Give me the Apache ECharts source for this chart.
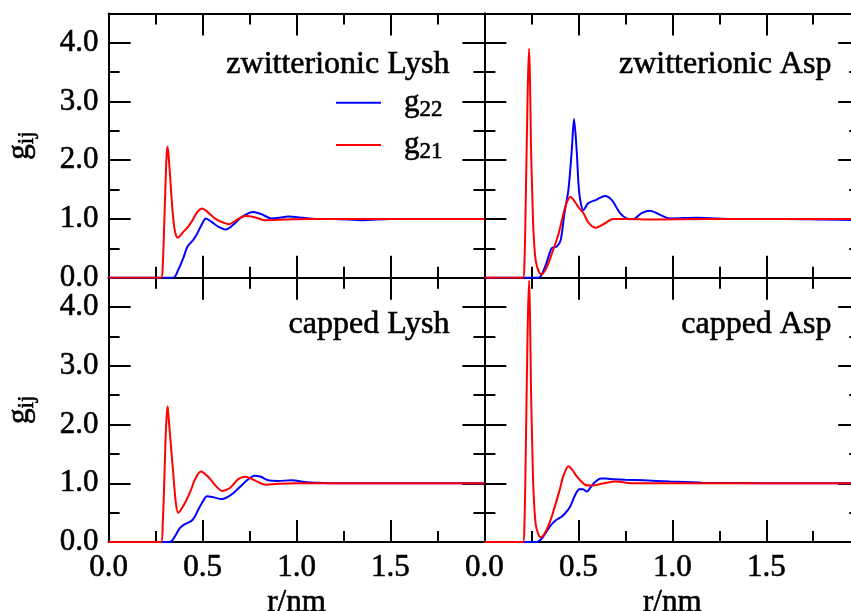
<!DOCTYPE html>
<html>
<head>
<meta charset="utf-8">
<script src="https://cdn.jsdelivr.net/npm/echarts@6/dist/echarts.min.js"></script>
<style>
  html, body { margin: 0; padding: 0; background: #ffffff; }
  #chart { width: 851px; height: 611px; }
</style>
</head>
<body>
<div id="chart"></div>
<script>
// Radial distribution functions g(r), r in nm.
// g22: blue, g21: red. One pair of curves per panel.

// zwitterionic Lysh
const zwLyshG22R = [0, 0.344, 0.37, 0.397, 0.42, 0.45, 0.468, 0.495, 0.518, 0.548, 0.583, 0.624, 0.663, 0.707, 0.77, 0.814, 0.867, 0.91, 0.955, 1.035, 1.1, 1.2, 1.35, 1.5, 1.7, 2.0];
const zwLyshG22 = [0, 0, 0.13, 0.33, 0.53, 0.64, 0.73, 0.90, 1.01, 0.95, 0.87, 0.82, 0.90, 1.03, 1.12, 1.08, 1.01, 1.02, 1.04, 1.02, 1.0, 1.0, 0.98, 1.0, 1.0, 1.0];
const zwLyshG21R = [0, 0.28, 0.288, 0.296, 0.303, 0.309, 0.314, 0.32, 0.33, 0.34, 0.35, 0.36, 0.368, 0.385, 0.40, 0.424, 0.447, 0.468, 0.485, 0.498, 0.515, 0.54, 0.565, 0.6, 0.64, 0.68, 0.725, 0.778, 0.83, 0.94, 1.05, 1.2, 1.5, 2.0];
const zwLyshG21 = [0, 0, 0.2, 0.9, 1.6, 2.1, 2.23, 2.05, 1.6, 1.15, 0.85, 0.71, 0.68, 0.73, 0.79, 0.87, 0.98, 1.10, 1.16, 1.18, 1.15, 1.08, 1.01, 0.95, 0.91, 0.98, 1.05, 1.03, 0.98, 0.99, 1.0, 1.0, 1.0, 1.0];

// zwitterionic Asp
const zwAspG22R = [0, 0.287, 0.323, 0.358, 0.385, 0.406, 0.426, 0.447, 0.465, 0.477, 0.491, 0.505, 0.527, 0.553, 0.598, 0.642, 0.678, 0.722, 0.757, 0.793, 0.837, 0.881, 0.935, 0.988, 1.13, 1.34, 1.6, 1.8, 2.0];
const zwAspG22 = [0, 0, 0.19, 0.50, 0.53, 0.64, 1.10, 1.49, 2.17, 2.70, 2.17, 1.44, 1.15, 1.27, 1.33, 1.39, 1.32, 1.10, 1.01, 1.0, 1.10, 1.14, 1.07, 1.01, 1.02, 1.0, 1.0, 0.99, 0.98];
const zwAspG21R = [0, 0.205, 0.213, 0.22, 0.226, 0.232, 0.238, 0.243, 0.248, 0.255, 0.261, 0.273, 0.291, 0.305, 0.332, 0.358, 0.394, 0.42, 0.438, 0.458, 0.484, 0.505, 0.527, 0.553, 0.589, 0.633, 0.686, 0.75, 0.9, 1.2, 1.5, 2.0];
const zwAspG21 = [0, 0, 0.25, 1.3, 2.4, 3.4, 3.90, 3.3, 2.22, 1.4, 0.80, 0.29, 0.09, 0.06, 0.18, 0.40, 0.74, 1.08, 1.28, 1.38, 1.28, 1.18, 1.10, 0.94, 0.85, 0.91, 1.0, 1.0, 0.99, 1.0, 1.0, 1.0];

// capped Lysh
const capLyshG22R = [0, 0.326, 0.35, 0.38, 0.41, 0.441, 0.46, 0.477, 0.50, 0.523, 0.56, 0.601, 0.63, 0.663, 0.70, 0.74, 0.778, 0.81, 0.849, 0.9, 0.973, 1.044, 1.1, 1.2, 1.5, 2.0];
const capLyshG22 = [0, 0, 0.08, 0.24, 0.31, 0.36, 0.44, 0.55, 0.68, 0.78, 0.76, 0.73, 0.76, 0.83, 0.94, 1.06, 1.13, 1.11, 1.05, 1.04, 1.05, 1.02, 1.01, 1.0, 1.0, 1.0];
const capLyshG21R = [0, 0.28, 0.288, 0.296, 0.303, 0.309, 0.314, 0.32, 0.33, 0.344, 0.358, 0.37, 0.385, 0.415, 0.44, 0.459, 0.491, 0.53, 0.565, 0.604, 0.645, 0.69, 0.725, 0.778, 0.833, 0.90, 1.0, 1.2, 1.5, 2.0];
const capLyshG21 = [0, 0, 0.3, 1.0, 1.74, 2.15, 2.31, 2.1, 1.7, 1.17, 0.66, 0.50, 0.55, 0.72, 0.90, 1.06, 1.20, 1.11, 0.975, 0.87, 0.92, 1.07, 1.11, 1.05, 0.975, 0.99, 1.0, 1.0, 1.0, 1.0];

// capped Asp
const capAspG22R = [0, 0.279, 0.31, 0.35, 0.38, 0.41, 0.43, 0.456, 0.48, 0.505, 0.525, 0.545, 0.565, 0.589, 0.62, 0.645, 0.686, 0.75, 0.846, 0.988, 1.16, 1.5, 2.0];
const capAspG22 = [0, 0, 0.08, 0.27, 0.37, 0.43, 0.49, 0.60, 0.78, 0.90, 0.90, 0.86, 0.93, 1.02, 1.08, 1.08, 1.07, 1.06, 1.05, 1.03, 1.01, 1.0, 1.0];
const capAspG21R = [0, 0.205, 0.213, 0.22, 0.226, 0.232, 0.238, 0.243, 0.248, 0.255, 0.261, 0.273, 0.291, 0.302, 0.33, 0.36, 0.40, 0.42, 0.447, 0.47, 0.491, 0.536, 0.575, 0.606, 0.65, 0.695, 0.8, 1.0, 1.5, 2.0];
const capAspG21 = [0, 0, 0.3, 1.5, 2.8, 3.9, 4.45, 3.8, 2.6, 1.6, 0.9, 0.30, 0.10, 0.085, 0.2, 0.45, 0.88, 1.12, 1.29, 1.22, 1.12, 0.975, 0.96, 0.98, 1.01, 1.03, 1.0, 1.0, 1.0, 1.0];

const panelTitles = ['zwitterionic Lysh', 'zwitterionic Asp', 'capped Lysh', 'capped Asp'];
const seriesNames = ['g22', 'g21'];
const xAxisName = 'r/nm';
const yAxisName = '{g|g}{s|ij}';

const panelData = [
  [[zwLyshG22R, zwLyshG22], [zwLyshG21R, zwLyshG21]],
  [[zwAspG22R, zwAspG22], [zwAspG21R, zwAspG21]],
  [[capLyshG22R, capLyshG22], [capLyshG21R, capLyshG21]],
  [[capAspG22R, capAspG22], [capAspG21R, capAspG21]]
];

const FONT = '"Liberation Serif", "Times New Roman", serif';
const COLORS = ['#0000ff', '#ff0000'];
// slight stroke so the serif glyphs read a little heavier
const INK = { color: '#000', textBorderColor: '#000', textBorderWidth: 0.6 };

// panel layout: 2 x 2, panels share their borders
const LEFT0 = 108.6, PW = 375.8;
const TOP0 = 13.4, PH = 264.3;
const grids = [];
for (let i = 0; i < 4; i++) {
  const col = i % 2, row = Math.floor(i / 2);
  grids.push({
    left: LEFT0 + col * PW, top: TOP0 + row * PH, width: PW, height: PH,
    containLabel: false, outerBoundsMode: 'none'
  });
}

const lineStyle = { color: '#000', width: 2 };
const tickCommon = {
  axisLine: { show: true, onZero: false, lineStyle },
  axisTick: { show: true, inside: true, length: 22, lineStyle },
  minorTick: { show: true, splitNumber: 2, length: 11, lineStyle },
  splitLine: { show: false }
};

const subRich = {
  g: Object.assign({ fontFamily: FONT, fontSize: 31 }, INK),
  s: Object.assign({ fontFamily: FONT, fontSize: 23, padding: [15, 0, 0, 0] }, INK)
};

const xAxes = [], yAxes = [];
for (let i = 0; i < 4; i++) {
  const isBottom = i >= 2, isLeft = i % 2 === 0;
  xAxes.push(Object.assign({
    type: 'value', gridIndex: i, position: 'bottom', min: 0, max: 2, interval: 0.5,
    axisLabel: Object.assign({
      show: isBottom, margin: 10, showMaxLabel: false,
      fontFamily: FONT, fontSize: 31, formatter: v => v.toFixed(1)
    }, INK),
    name: isBottom ? xAxisName : '', nameLocation: 'middle', nameGap: 45,
    nameTextStyle: Object.assign({ fontFamily: FONT, fontSize: 31 }, INK)
  }, tickCommon));
  xAxes.push(Object.assign({
    type: 'value', gridIndex: i, position: 'top', min: 0, max: 2, interval: 0.5,
    axisLabel: { show: false }
  }, tickCommon));
  yAxes.push(Object.assign({
    type: 'value', gridIndex: i, position: 'left', min: 0, max: 4.5, interval: 1,
    axisLabel: Object.assign({
      show: isLeft, margin: 10, fontFamily: FONT, fontSize: 31,
      formatter: v => (Math.abs(v - Math.round(v)) < 1e-9 ? v.toFixed(1) : '')
    }, INK),
    name: isLeft ? yAxisName : '', nameLocation: 'middle', nameGap: 70,
    nameTextStyle: { color: '#000', fontFamily: FONT, rich: subRich }
  }, tickCommon));
  yAxes.push(Object.assign({
    type: 'value', gridIndex: i, position: 'right', min: 0, max: 4.5, interval: 1,
    axisLabel: { show: false }
  }, tickCommon));
}

const series = [];
panelData.forEach((pair, i) => {
  pair.forEach(([r, g], k) => {
    series.push({
      type: 'line', name: seriesNames[k], xAxisIndex: 2 * i, yAxisIndex: 2 * i,
      data: r.map((x, j) => [x, g[j]]),
      showSymbol: false, symbol: 'none', smooth: 0.3, clip: true,
      lineStyle: { color: COLORS[k], width: 2 }, itemStyle: { color: COLORS[k] },
      z: 2 + k, silent: true, animation: false
    });
  });
});

const titleRight = [401, 19, 401, 19];
const titleTop = [49, 49, 309, 309];
const titles = panelTitles.map((t, i) => ({
  text: t, right: titleRight[i], top: titleTop[i], padding: 0,
  textStyle: Object.assign({ fontFamily: FONT, fontSize: 32, fontWeight: 'normal' }, INK)
}));

const chart = echarts.init(document.getElementById('chart'), null, { renderer: 'canvas' });
chart.setOption({
  backgroundColor: '#fff',
  animation: false,
  title: titles,
  legend: {
    data: seriesNames, orient: 'vertical', left: 336, top: 87, padding: 0,
    icon: 'rect', itemWidth: 45, itemHeight: 2, itemGap: 7,
    selectedMode: false,
    formatter: n => '{g|g}{s|' + n.slice(1) + '}',
    textStyle: { padding: [0, 0, 0, 18], rich: subRich }
  },
  grid: grids,
  xAxis: xAxes,
  yAxis: yAxes,
  series
});
</script>
</body>
</html>
